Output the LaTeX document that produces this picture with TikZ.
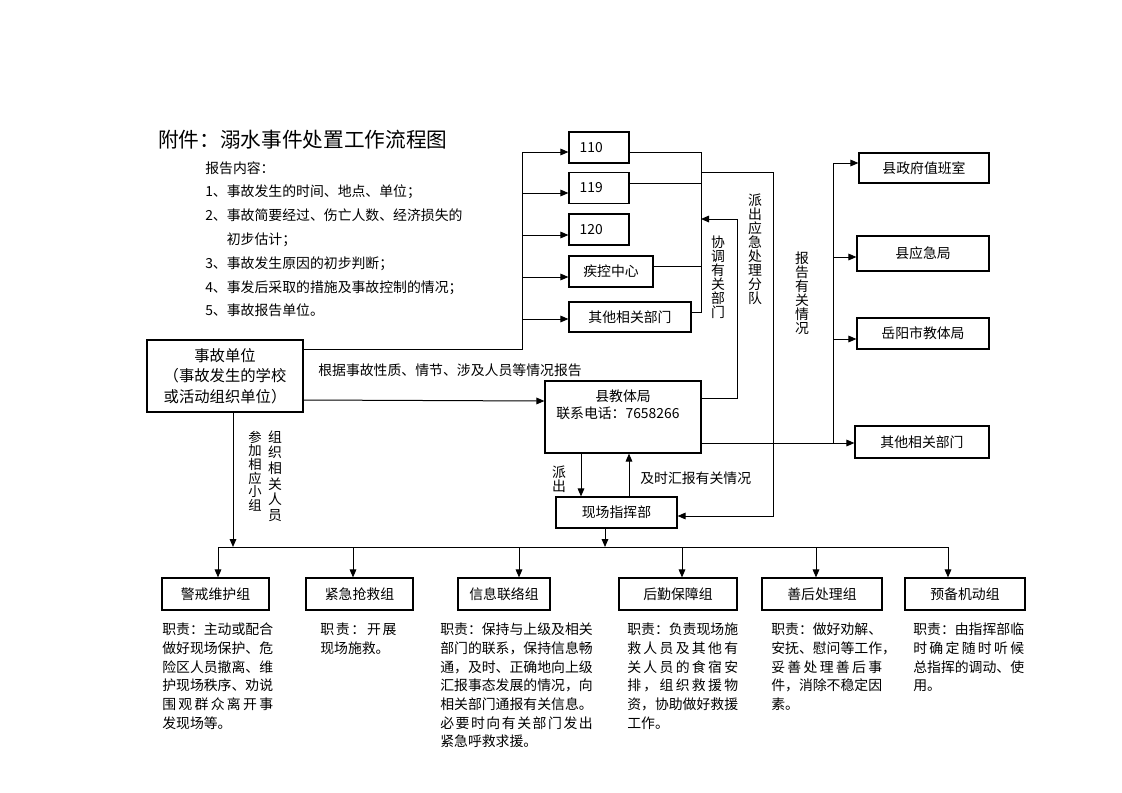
\documentclass[tikz,border=0pt]{standalone}
\usepackage{fontspec}
\setmainfont{Noto Sans CJK SC}
\usetikzlibrary{arrows.meta}
\newcommand{\fs}{\fontsize{10.4pt}{13pt}\selectfont}
% spread one line of characters over a given width
\makeatletter
\newcommand\spr[2]{\makebox[#1][s]{\spr@a#2\@nil}}
\def\spr@a#1#2{#1\ifx#2\@nil\expandafter\@gobble\else\hfil\expandafter\@firstofone\fi{\spr@a#2}}
\makeatother
\tikzset{
%Define standard arrow tip
>={Triangle[length=6pt,width=5pt]},
%Define styles for boxes, lines and texts
box/.style={draw, line width=0.9pt, minimum height=23.25pt, inner sep=2pt, font=\fs},
conn/.style={line width=0.75pt},
flow/.style={conn, ->},
vlabel/.style={align=center, inner sep=0pt},
duty/.style={anchor=north west, align=left, inner sep=0pt, font=\fontsize{10.4pt}{14pt}\selectfont},
}

\begin{document}
\begin{tikzpicture}[x=0.75pt, y=-0.75pt]
    \useasboundingbox (0,0) rectangle (1122,793);
    % Title and report content
    \node[anchor=west, inner sep=0pt, font=\fontsize{15.5pt}{18pt}\selectfont] (title) at (158,140)
    {附件：溺水事件处置工作流程图};
    \node[anchor=north west, align=left, inner sep=0pt, font=\fontsize{10.4pt}{17.85pt}\selectfont]
    (content) at (205,161) {报告内容：\\1、事故发生的时间、地点、单位；\\2、事故简要经过、伤亡人数、经济损失的\\
    \hphantom{2、}初步估计；\\3、事故发生原因的初步判断；\\4、事发后采取的措施及事故控制的情况；\\5、事故报告单位。};

    % Boxes at the top
    \node[box, minimum width=45pt, text width=29pt, inner xsep=8pt, align=left] (n110) at (599,147.5) {110};
    \node[box, minimum width=45pt, text width=29pt, inner xsep=8pt, align=left] (n119) at (599,188) {119};
    \node[box, minimum width=45pt, text width=29pt, inner xsep=8pt, align=left] (n120) at (599,229.5) {120};
    \node[box, minimum width=63pt] (jk) at (611,271.5) {疾控中心};
    \node[box, minimum width=91.5pt, minimum height=22.5pt] (qt1) at (630,317) {其他相关部门};

    % Accident unit and county bureau
    \node[box, minimum width=117pt, minimum height=54pt, align=center,
      font=\fontsize{11.5pt}{15.4pt}\selectfont] (acc) at (225,376)
      {事故单位\\（事故发生的学校\\或活动组织单位）};
    \node[box, minimum width=117pt, minimum height=54pt] (bur) at (623,417) {};
    \node[font=\fs, inner sep=0pt] (bur name) at (623,396) {县教体局};
    \node[font=\fs, inner sep=0pt, anchor=west] (bur tel) at (556,413) {联系电话：7658266};
    \node[box, minimum width=90.75pt] (site) at (616.5,512.5) {现场指挥部};

    % Boxes on the right
    \node[box, minimum width=97.5pt, minimum height=22.5pt] (gov) at (924,168) {县政府值班室};
    \node[box, minimum width=99pt, minimum height=26.25pt] (emg) at (923,253.5) {县应急局};
    \node[box, minimum width=99pt] (yy) at (923,333.5) {岳阳市教体局};
    \node[box, minimum width=100.5pt, minimum height=24pt] (qt2) at (922,442) {其他相关部门};

    % Groups
    \node[box, minimum width=80.25pt, minimum height=24pt] (g1) at (215.5,594) {警戒维护组};
    \node[box, minimum width=80.25pt, minimum height=24pt] (g2) at (359.5,594) {紧急抢救组};
    \node[box, minimum width=69pt, minimum height=24pt] (g3) at (504,594) {信息联络组};
    \node[box, minimum width=88.5pt, minimum height=24pt] (g4) at (678,594) {后勤保障组};
    \node[box, minimum width=90pt, minimum height=24pt] (g5) at (822,594) {善后处理组};
    \node[box, minimum width=90pt, minimum height=24pt] (g6) at (965,594) {预备机动组};

    % Duties of the groups
    \node[duty] (d1) at (162,623) {职责：主动或配合\\做好现场保护、危\\险区人员撤离、维\\护现场秩序、劝说\\
      \spr{8em}{围观群众离开事}\\发现场等。};
    \node[duty] (d2) at (320,623) {\spr{5.5em}{职责：开展}\\现场施救。};
    \node[duty] (d3) at (440,623) {职责：保持与上级及相关\\部门的联系，保持信息畅\\通，及时、正确地向上级\\
      汇报事态发展的情况，向\\相关部门通报有关信息。\\\spr{11em}{必要时向有关部门发出}\\紧急呼救求援。};
    \node[duty] (d4) at (627,623) {职责：负责现场施\\\spr{8em}{救人员及其他有}\\\spr{8em}{关人员的食宿安}\\
      \spr{8em}{排，组织救援物}\\资，协助做好救援\\工作。};
    \node[duty] (d5) at (771,623) {职责：做好劝解、\\安抚、慰问等工作，\\\spr{8em}{妥善处理善后事}\\
      件，消除不稳定因\\素。};
    \node[duty] (d6) at (913,623) {职责：由指挥部临\\\spr{8em}{时确定随时听候}\\总指挥的调动、使\\用。};

    % Left bus from the accident unit to the boxes at the top
    \coordinate (lbus top) at (522,152);
    \coordinate (lbus bot) at (522,349);
    \draw[conn] (acc.east |- lbus bot) -- (lbus bot) -- (lbus top);
    \foreach \b/\y in {n110/152, n119/193, n120/235, jk/277, qt1/319}
      \draw[flow] (522,\y) -- (\b.west |- 0,\y);

    % Right collector of the boxes at the top
    \draw[conn] (n110.east |- 0,152) -- (701,152) -- (701,312) -- (qt1.east |- 0,312);
    \draw[conn] (n119.east |- 0,183) -- (701,183);
    \draw[conn] (jk.east |- 0,266) -- (701,266);
    \draw[flow] (bur.east |- 0,398) -- (737,398) -- (737,219) -- (701,219);
    \draw[flow] (701,172) -- (773,172) -- (773,516) -- (site.east |- 0,516);

    % Reports to the offices on the right
    \draw[conn] (bur.east |- 0,443) -- (833,443);
    \draw[conn] (833,163) -- (833,443);
    \foreach \b/\y in {gov/163, emg/257, yy/339, qt2/443}
      \draw[flow] (833,\y) -- (\b.west |- 0,\y);

    % Accident unit, bureau and site command
    \draw[flow] (acc.east |- 0,400) -- (bur.west |- 0,401);
    \draw[flow] (acc.south -| 233,0) -- (233,547);
    \draw[flow] (bur.south -| 581,0) -- (site.north -| 581,0);
    \draw[flow] (site.north -| 629,0) -- (bur.south -| 629,0);
    \draw[flow] (site.south -| 605,0) -- (605,547);

    % Bus to the groups
    \draw[conn] (218,547) -- (948,547);
    \foreach \g/\x in {g1/218, g2/353, g3/519, g4/682, g5/816, g6/948}
      \draw[flow] (\x,547) -- (\g.north -| \x,0);

    % Labels on the connectors
    \node[font=\fs, inner sep=0pt, anchor=west] (lab report) at (318,370) {根据事故性质、情节、涉及人员等情况报告};
    \node[font=\fs, inner sep=0pt, anchor=west] (lab back) at (640,478) {及时汇报有关情况};
    \node[vlabel, font=\fontsize{10.4pt}{10.5pt}\selectfont] (lab coord) at (718,277) {协\\调\\有\\关\\部\\门};
    \node[vlabel, font=\fontsize{10.4pt}{10.5pt}\selectfont] (lab team) at (755,249) {派\\出\\应\\急\\处\\理\\分\\队};
    \node[vlabel, font=\fontsize{10.4pt}{10.5pt}\selectfont] (lab inform) at (802,293) {报\\告\\有\\关\\情\\况};
    \node[vlabel, font=\fontsize{10pt}{10.2pt}\selectfont] (lab join) at (255,471) {参\\加\\相\\应\\小\\组};
    \node[vlabel, font=\fontsize{10.4pt}{11.7pt}\selectfont] (lab staff) at (275,476) {组\\织\\相\\关\\人\\员};
    \node[vlabel, font=\fontsize{10.4pt}{10.5pt}\selectfont] (lab send) at (559,479) {派\\出};
\end{tikzpicture}
\end{document}
